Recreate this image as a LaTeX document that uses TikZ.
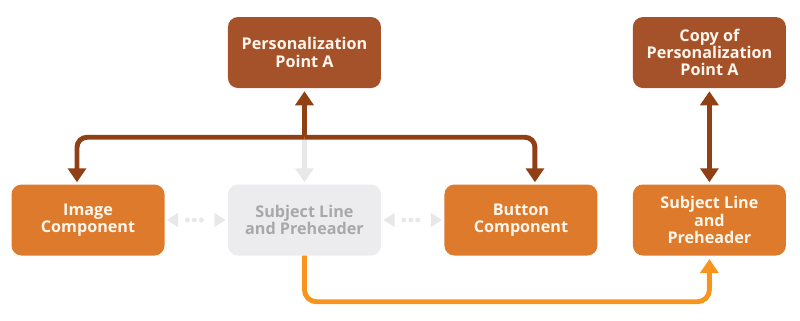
\documentclass[tikz,border=0pt]{standalone}
\usepackage{fontspec}
\setmainfont{Open Sans}
\usetikzlibrary{arrows.meta, positioning, calc}
\definecolor{rust}{RGB}{165,82,42}
\definecolor{amber}{RGB}{221,122,44}
\definecolor{rustline}{RGB}{145,64,22}
\definecolor{tangerine}{RGB}{247,148,30}
\definecolor{ghost}{RGB}{236,236,238}
\definecolor{ghosttext}{RGB}{168,168,170}
\definecolor{ghostline}{RGB}{232,232,232}
\definecolor{cream}{RGB}{253,246,236}

\begin{document}
\begin{tikzpicture}[
        node distance=2.88cm and 1.89cm,
        box/.style={rectangle, rounded corners=0.3cm, minimum width=4.59cm, minimum height=2.13cm, align=center, font=\fontsize{13.8}{14.8}\selectfont\bfseries, text=cream},
        point/.style={box, fill=rust},
        comp/.style={box, fill=amber},
        faded/.style={box, fill=ghost, text=ghosttext},
        link/.style={-{Triangle[width=5.4mm, length=4.2mm]}, line width=4.2pt, draw=rustline},
        both/.style={link, {Triangle[width=5.4mm, length=4.2mm]}-{Triangle[width=5.4mm, length=4.2mm]}},
        fadedlink/.style={link, draw=ghostline, line width=3.6pt},
        swap/.style={-{Triangle[width=5.4mm, length=4.2mm]}, line width=4.2pt, draw=tangerine, rounded corners=0.36cm},
        dotlink/.style={{Triangle[width=4mm, length=3.4mm]}-{Triangle[width=4mm, length=3.4mm]}, draw=ghostline, line width=0.15cm, line cap=round,
            dash pattern=on 0pt off 0.21cm on 0pt off 0.21cm on 0pt off 1.2cm, dash phase=1.32cm, shorten <=0.06cm, shorten >=0.06cm}
    ]
        \useasboundingbox (0,0) rectangle (24,-9.6);

        \node[comp] (img) at (2.64,-6.6) {Image\\Component};
        \node[faded, right=of img] (grey) {Subject Line\\and Preheader};
        \node[comp, right=of grey] (btn) {Button\\Component};
        \node[comp, right=1.05cm of btn] (subj) {Subject Line\\and\\Preheader};
        \node[point, above=of grey] (pa) {Personalization\\Point A};
        \node[point, above=of subj] (copy) {Copy of\\Personalization\\Point A};

        \coordinate (fork) at ($(pa.south)+(0,-1.47)$);

        % faded links first
        \draw[fadedlink, shorten >=0.06cm] ([yshift=-0.06cm]fork) -- (grey.north);
        \draw[dotlink] (img.east) -- (grey.west);
        \draw[dotlink] (grey.east) -- (btn.west);

        \draw[link, shorten >=0.09cm] (fork) -- (pa.south);
        \draw[link, rounded corners=0.3cm, shorten >=0.06cm] (fork) -| ([xshift=-0.33cm]img.north);
        \draw[link, rounded corners=0.3cm, shorten >=0.06cm] (fork) -| ([xshift=0.42cm]btn.north);
        \draw[both, shorten <=0.09cm, shorten >=0.06cm] (copy.south) -- (subj.north);
        \draw[swap, shorten >=0.1cm] (grey.south) -- ++(0,-1.38) -| (subj.south);
    \end{tikzpicture}
\end{document}
